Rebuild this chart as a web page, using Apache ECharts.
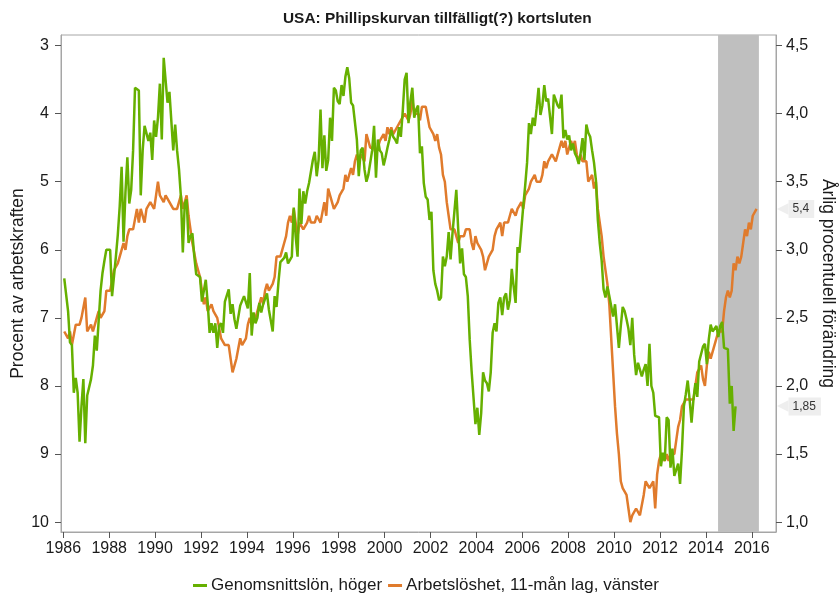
<!DOCTYPE html>
<html>
<head>
<meta charset="utf-8">
<script src="https://cdn.jsdelivr.net/npm/echarts@6/dist/echarts.min.js"></script>
<style>
  html, body { margin: 0; padding: 0; background: #ffffff; }
  #chart { width: 840px; height: 594px; }
</style>
</head>
<body>
<div id="chart"></div>
<script>
// ---- Data ----
const titleText = 'USA: Phillipskurvan tillfälligt(?) kortsluten';
const seriesNames = ['Genomsnittslön, höger', 'Arbetslöshet, 11-mån lag, vänster'];
const startYear = 1986; // first monthly point = Jan 1986

// Average wage, annual % change (right axis), monthly Jan 1986 - Apr 2015
const wageValues = [
  2.79, 2.78, 2.55, 2.32, 2.30, 1.95, 2.06, 1.95, 1.59, 1.85, 2.05, 1.58,
  1.93, 1.93, 2.05, 2.15, 2.37, 2.26, 2.25, 2.70, 2.83, 2.92, 3.00, 3.00,
  3.00, 2.66, 2.66, 2.95, 3.11, 3.32, 3.61, 3.06, 3.42, 3.68, 3.34, 3.44,
  3.73, 4.19, 4.18, 4.17, 3.40, 3.73, 3.91, 3.91, 3.80, 3.86, 3.66, 3.95,
  3.83, 3.97, 4.22, 3.81, 4.41, 4.40, 4.08, 4.16, 4.15, 3.73, 3.92, 3.73,
  3.59, 3.39, 2.98, 3.34, 3.37, 3.05, 3.10, 3.12, 2.95, 2.82, 2.81, 2.80,
  2.62, 2.61, 2.78, 2.61, 2.39, 2.46, 2.39, 2.46, 2.28, 2.44, 2.46, 2.39,
  2.62, 2.61, 2.71, 2.53, 2.60, 2.49, 2.42, 2.42, 2.59, 2.58, 2.66, 2.66,
  2.57, 2.83, 2.37, 2.54, 2.46, 2.50, 2.61, 2.54, 2.60, 2.61, 2.68, 2.56,
  2.48, 2.40, 2.66, 2.58, 2.76, 2.91, 2.92, 2.94, 2.98, 2.90, 2.89, 2.95,
  3.31, 3.10, 2.95, 3.45, 3.19, 3.43, 3.34, 3.43, 3.49, 3.49, 3.66, 3.72,
  3.54, 3.66, 4.03, 3.60, 3.84, 3.58, 3.66, 3.97, 3.80, 4.19, 4.17, 4.09,
  4.07, 4.21, 4.13, 4.27, 4.34, 4.26, 4.08, 4.06, 4.05, 3.81, 3.54, 3.73,
  3.75, 3.59, 3.50, 3.55, 3.55, 3.73, 3.91, 3.53, 3.81, 3.73, 3.71, 3.62,
  3.68, 3.75, 3.81, 3.88, 3.83, 3.81, 3.78, 3.90, 3.83, 4.02, 4.25, 4.30,
  3.93, 4.09, 4.19, 3.97, 4.03, 4.06, 3.71, 3.76, 3.49, 3.39, 3.37, 3.22,
  3.28, 2.85, 2.75, 2.70, 2.63, 2.65, 2.95, 2.88, 2.95, 3.13, 2.93, 3.12,
  3.13, 3.44, 3.15, 2.90, 3.01, 2.82, 2.80, 2.66, 2.34, 2.11, 2.11, 1.72,
  1.84, 1.64, 1.80, 2.10, 2.04, 2.02, 1.96, 2.10, 2.39, 2.46, 2.40, 2.61,
  2.65, 2.52, 2.65, 2.68, 2.56, 2.63, 2.86, 2.73, 2.61, 3.02, 2.98, 3.15,
  3.32, 3.47, 3.64, 3.93, 3.85, 3.97, 3.91, 4.04, 4.19, 3.99, 4.06, 4.21,
  4.09, 4.11, 4.10, 3.85, 4.14, 4.13, 4.06, 4.04, 4.14, 3.82, 3.88, 3.81,
  3.84, 3.73, 3.78, 3.71, 3.68, 3.63, 3.71, 3.82, 3.66, 3.92, 3.86, 3.83,
  3.73, 3.64, 3.51, 3.22, 3.05, 2.92, 2.71, 2.65, 2.73, 2.66, 2.67, 2.51,
  2.60, 2.44, 2.28, 2.44, 2.58, 2.55, 2.49, 2.42, 2.30, 2.50, 2.23, 2.08,
  2.17, 2.12, 2.07, 2.12, 2.16, 2.00, 2.31, 2.00, 1.95, 1.78, 1.77, 1.77,
  1.41, 1.51, 1.45, 1.77, 1.75, 1.40, 1.54, 1.34, 1.34, 1.43, 1.28, 1.53,
  1.85, 1.94, 2.04, 1.90, 1.73, 1.90, 2.02, 1.92, 2.18, 2.18, 2.29, 2.31,
  2.16, 2.34, 2.45, 2.40, 2.40, 2.44, 2.36, 2.44, 2.47, 2.28, 2.27, 2.27,
  1.87, 2.00, 1.67, 1.85
];

// Unemployment rate, % of labour force (left axis, inverted), lagged 11 months,
// monthly Jan 1986 - Mar 2016
const unempValues = [
  7.2, 7.2, 7.3, 7.2, 7.4, 7.4, 7.1, 7.1, 7.1, 7.0, 7.0,
  6.7, 7.2, 7.2, 7.1, 7.2, 7.2, 7.0, 6.9, 7.0, 7.0, 6.9, 6.6,
  6.6, 6.6, 6.6, 6.3, 6.3, 6.2, 6.1, 6.0, 5.9, 6.0, 5.8, 5.7,
  5.7, 5.7, 5.7, 5.4, 5.6, 5.4, 5.4, 5.6, 5.4, 5.4, 5.3, 5.3,
  5.4, 5.2, 5.0, 5.2, 5.2, 5.3, 5.2, 5.2, 5.3, 5.3, 5.4, 5.4,
  5.4, 5.3, 5.2, 5.4, 5.4, 5.2, 5.5, 5.7, 5.9, 5.9, 6.2, 6.3,
  6.4, 6.6, 6.8, 6.7, 6.9, 6.9, 6.8, 6.9, 6.9, 7.0, 7.0, 7.3,
  7.3, 7.4, 7.4, 7.4, 7.6, 7.8, 7.7, 7.6, 7.6, 7.3, 7.4, 7.4,
  7.3, 7.1, 7.0, 7.1, 7.1, 7.0, 6.9, 6.8, 6.7, 6.8, 6.6, 6.5,
  6.6, 6.6, 6.5, 6.4, 6.1, 6.1, 6.1, 6.0, 5.9, 5.8, 5.6, 5.5,
  5.6, 5.4, 5.4, 5.8, 5.6, 5.6, 5.7, 5.7, 5.6, 5.5, 5.6, 5.6,
  5.6, 5.5, 5.5, 5.6, 5.6, 5.3, 5.5, 5.1, 5.2, 5.2, 5.4, 5.4,
  5.3, 5.2, 5.2, 5.1, 4.9, 5.0, 4.9, 4.8, 4.9, 4.7, 4.6, 4.7,
  4.6, 4.6, 4.7, 4.3, 4.4, 4.5, 4.5, 4.5, 4.6, 4.5, 4.4, 4.4,
  4.3, 4.4, 4.2, 4.3, 4.2, 4.3, 4.3, 4.2, 4.2, 4.1, 4.1, 4.0,
  4.0, 4.1, 4.0, 3.8, 4.0, 4.0, 4.0, 4.1, 3.9, 3.9, 3.9, 3.9,
  4.2, 4.2, 4.3, 4.4, 4.3, 4.5, 4.6, 4.9, 5.0, 5.3, 5.5, 5.7,
  5.7, 5.7, 5.7, 5.9, 5.8, 5.8, 5.8, 5.7, 5.7, 5.7, 5.9, 6.0,
  5.8, 5.9, 5.9, 6.0, 6.1, 6.3, 6.2, 6.1, 6.1, 6.0, 5.8, 5.7,
  5.7, 5.6, 5.8, 5.6, 5.6, 5.6, 5.5, 5.4, 5.4, 5.5, 5.4, 5.4,
  5.3, 5.4, 5.2, 5.2, 5.1, 5.0, 5.0, 4.9, 5.0, 5.0, 5.0, 4.9,
  4.7, 4.8, 4.7, 4.7, 4.6, 4.6, 4.7, 4.7, 4.5, 4.4, 4.5, 4.4,
  4.6, 4.5, 4.4, 4.5, 4.4, 4.6, 4.7, 4.6, 4.7, 4.7, 4.7, 5.0,
  5.0, 4.9, 5.1, 5.0, 5.4, 5.6, 5.8, 6.1, 6.1, 6.5, 6.8, 7.3,
  7.8, 8.3, 8.7, 9.0, 9.4, 9.5, 9.5, 9.6, 9.8, 10.0, 9.9, 9.9,
  9.8, 9.8, 9.9, 9.9, 9.6, 9.4, 9.4, 9.5, 9.5, 9.4, 9.8, 9.3,
  9.1, 9.0, 9.0, 9.1, 9.0, 9.1, 9.0, 9.0, 9.0, 8.8, 8.6, 8.5,
  8.3, 8.3, 8.2, 8.2, 8.2, 8.2, 8.2, 8.0, 7.8, 7.8, 7.7, 7.9,
  8.0, 7.7, 7.5, 7.6, 7.5, 7.5, 7.3, 7.2, 7.2, 7.2, 6.9, 6.7,
  6.6, 6.7, 6.6, 6.2, 6.3, 6.1, 6.2, 6.1, 5.9, 5.7, 5.8, 5.6,
  5.7, 5.5, 5.5, 5.4
];

const xTickYears = [1986, 1988, 1990, 1992, 1994, 1996, 1998, 2000, 2002, 2004, 2006, 2008, 2010, 2012, 2014, 2016];
const leftTicks = [3, 4, 5, 6, 7, 8, 9, 10];
const rightTicks = [1.0, 1.5, 2.0, 2.5, 3.0, 3.5, 4.0, 4.5];
const shadedPeriod = [2014.53, 2016.31];

// ---- Chart ----
const FONT = '"Liberation Sans", Arial, Helvetica, sans-serif';
const GREEN = '#66b000';
const ORANGE = '#e07b2c';
const AXIS = '#a6a6a6';
const TXT = '#1a1a1a';

const toPoints = vals => vals.map((v, i) => [startYear + (i + 0.5) / 12, v]);
const comma = v => String(v).replace('.', ',');
const lastWage = wageValues[wageValues.length - 1];
const lastUnemp = unempValues[unempValues.length - 1];

function endTag(v, txt) {
  return {
    silent: true,
    symbol: ['none', 'none'],
    lineStyle: { color: 'rgba(0,0,0,0)', width: 1, type: 'solid' },
    label: {
      show: true,
      position: 'end',
      distance: 1,
      formatter: '{a|◀}{b|' + txt + '}',
      rich: {
        a: { color: '#eeeeee', fontSize: 15, fontFamily: '"DejaVu Sans", sans-serif' },
        b: { backgroundColor: '#eeeeee', color: '#333333', fontSize: 12, fontFamily: FONT, padding: [3, 5, 3, 4], lineHeight: 12 }
      }
    },
    data: [{ yAxis: v }]
  };
}

const chart = echarts.init(document.getElementById('chart'), null, { renderer: 'canvas' });
chart.setOption({
  animation: false,
  backgroundColor: '#ffffff',
  textStyle: { fontFamily: FONT },
  title: {
    text: titleText,
    left: 278,
    top: 6,
    textStyle: { fontSize: 15.4, fontWeight: 'bold', color: TXT, fontFamily: FONT }
  },
  legend: {
    data: seriesNames,
    left: 188,
    top: 572,
    icon: 'rect',
    itemWidth: 14,
    itemHeight: 3,
    itemGap: 6,
    textStyle: { fontSize: 17, color: TXT, fontFamily: FONT, padding: [0, 0, 0, -1] }
  },
  grid: {
    left: 61, right: 64, top: 35, bottom: 62,
    outerBoundsMode: 'none',
    containLabel: false,
    show: true, borderColor: AXIS, borderWidth: 1, backgroundColor: 'transparent'
  },
  xAxis: {
    type: 'value',
    min: 1985.9,
    max: 2017.055,
    axisLine: { show: true, lineStyle: { color: AXIS, width: 1 } },
    axisTick: { show: true, length: 6, lineStyle: { color: '#555' }, customValues: xTickYears },
    axisLabel: { fontSize: 16, color: TXT, margin: 9, customValues: xTickYears, formatter: v => String(v) },
    splitLine: { show: false }
  },
  yAxis: [
    {
      type: 'value',
      position: 'left',
      inverse: true,
      min: 2.845,
      max: 10.145,
      name: 'Procent av arbetskraften',
      nameLocation: 'middle',
      nameGap: 34,
      nameMoveOverlap: false,
      nameTextStyle: { fontSize: 17.5, color: TXT, fontFamily: FONT },
      axisLine: { show: true, lineStyle: { color: AXIS, width: 1 } },
      axisTick: { show: true, length: 6, lineStyle: { color: '#555' }, customValues: leftTicks },
      axisLabel: { fontSize: 16, color: TXT, margin: 12, customValues: leftTicks, formatter: v => String(v) },
      splitLine: { show: false }
    },
    {
      type: 'value',
      position: 'right',
      min: 0.9275,
      max: 4.5775,
      name: 'Årlig procentuell förändring',
      nameLocation: 'middle',
      nameRotate: -90,
      nameGap: 43,
      nameMoveOverlap: false,
      nameTextStyle: { fontSize: 17.5, color: TXT, fontFamily: FONT },
      axisLine: { show: true, lineStyle: { color: AXIS, width: 1 } },
      axisTick: { show: true, length: 6, lineStyle: { color: '#555' }, customValues: rightTicks },
      axisLabel: { fontSize: 16, color: TXT, margin: 10, customValues: rightTicks, formatter: v => comma(v.toFixed(1)) },
      splitLine: { show: false }
    }
  ],
  series: [
    {
      name: seriesNames[1],
      type: 'line',
      yAxisIndex: 0,
      data: toPoints(unempValues),
      showSymbol: false,
      symbol: 'none',
      lineStyle: { color: ORANGE, width: 2.5 },
      itemStyle: { color: ORANGE },
      z: 3,
      markArea: {
        silent: true,
        itemStyle: { color: '#bfbfbf' },
        data: [[{ xAxis: shadedPeriod[0] }, { xAxis: shadedPeriod[1] }]]
      },
      markLine: endTag(lastUnemp, comma(lastUnemp))
    },
    {
      name: seriesNames[0],
      type: 'line',
      yAxisIndex: 1,
      data: toPoints(wageValues),
      showSymbol: false,
      symbol: 'none',
      lineStyle: { color: GREEN, width: 2.5 },
      itemStyle: { color: GREEN },
      z: 4,
      markLine: endTag(lastWage, comma(lastWage))
    }
  ]
});
</script>
</body>
</html>
